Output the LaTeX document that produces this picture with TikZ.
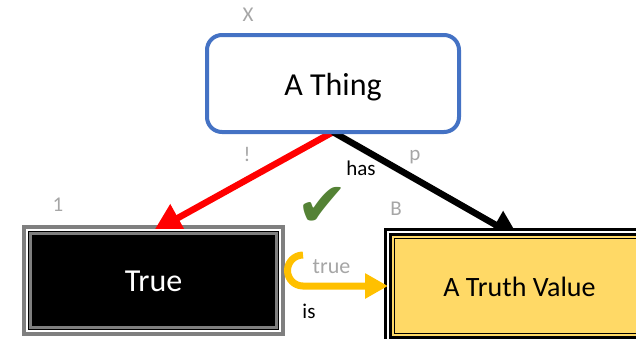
\documentclass[tikz,border=0pt]{standalone}
\usepackage{fontspec}
\setmainfont{Carlito}
\newfontfamily\symfont{DejaVu Sans}
\usetikzlibrary{arrows.meta,calc}
\definecolor{thingblue}{HTML}{4472C4}
\definecolor{linkred}{HTML}{FF0000}
\definecolor{isyellow}{HTML}{FFC000}
\definecolor{valuefill}{HTML}{FFD966}
\definecolor{labelgray}{HTML}{A6A6A6}
\definecolor{framegray}{HTML}{7F7F7F}
\definecolor{checkgreen}{HTML}{548235}
\pgfdeclarelayer{frames}
\pgfdeclarelayer{links}
\pgfsetlayers{frames,links,main}

\begin{document}
\begin{tikzpicture}[x=1pt,y=-1pt,
  every node/.style={inner sep=0pt,outer sep=0pt},
  bigtext/.style={font=\fontsize{32}{38}\selectfont},
  thingbox/.style={bigtext, draw=thingblue, line width=4pt, rounded corners=15pt,
    fill=white, minimum width=252pt, minimum height=97pt, text height=24pt, text depth=0pt},
  truebox/.style={bigtext, text=white, fill=black, draw=framegray, line width=3pt,
    minimum width=246pt, minimum height=94pt, text height=22.4pt, text depth=0pt},
  valuebox/.style={font=\fontsize{28}{34}\selectfont, fill=valuefill, draw=black,
    line width=1pt, minimum width=250pt, minimum height=95pt, text height=21.4pt, text depth=0pt},
  tag/.style={font=\fontsize{21}{25}\selectfont, text=labelgray, anchor=base},
  verb/.style={font=\fontsize{21}{25}\selectfont, anchor=base},
  link/.style={line width=6.5pt, -{Triangle[length=28pt,width=30pt]}},
  islink/.style={isyellow, line width=7pt, -{Triangle[length=23pt,width=24pt]}},
]
\useasboundingbox (0,0) rectangle (636,338);

% the three concepts
\node[thingbox] (thing) at (333,83.5) {A Thing};
\node[truebox] (truebox) at (153.5,280.5) {True};
\node[valuebox] (tv) at (519.5,286) {A Truth Value};

% outer frames
\begin{pgfonlayer}{frames}
  \fill[framegray] ([shift={(-8.5,-8.5)}]truebox.north west) rectangle ([shift={(8.5,8.5)}]truebox.south east);
  \fill[black] ([shift={(-10.5,-10.5)}]tv.north west) rectangle ([shift={(10.5,10.5)}]tv.south east);
\end{pgfonlayer}

% relations, then the inner frame rings on top of the arrow tips
\begin{pgfonlayer}{links}
  \draw[link, linkred] (thing.south) -- ([yshift=2pt]truebox.north);
  \draw[link, black] (thing.south) -- (tv.north);
  \coordinate (loopstart) at ([shift={(26.5,-25.5)}]truebox.east);
  \draw[islink] (loopstart) arc[start angle=270, end angle=90, radius=15.5] -- ([xshift=-6.5pt]tv.west);

  \fill[white] ([shift={(-4.5,-4.5)}]truebox.north west) rectangle ([shift={(4.5,4.5)}]truebox.south east);
  \fill[black] ([shift={(-2.5,-2.5)}]truebox.north west) rectangle ([shift={(2.5,2.5)}]truebox.south east);

  \fill[white] ([shift={(-7.5,-7.5)}]tv.north west) rectangle ([shift={(7.5,7.5)}]tv.south east);
  \fill[black] ([shift={(-5.5,-5.5)}]tv.north west) rectangle ([shift={(5.5,5.5)}]tv.south east);
  \fill[valuefill] ([shift={(-2.5,-2.5)}]tv.north west) rectangle ([shift={(2.5,2.5)}]tv.south east);
\end{pgfonlayer}

% labels
\node[tag] (lblx) at (248,21) {X};
\node[tag] (lblone) at (58,211.7) {1};
\node[tag] (lblb) at (396,215) {B};
\node[tag] (lblbang) at (247,161) {!};
\node[tag] (lblp) at (415,160) {p};
\node[verb] (lblhas) at (361,175) {has};
\node[tag, font=\fontsize{22}{26}\selectfont] (lbltrue) at (331.5,273.3) {true};
\node[verb] (lblis) at (309,318) {is};
\node[text=checkgreen, font=\symfont\fontsize{62}{70}\selectfont] (check) at (322,207) {✔};
\end{tikzpicture}
\end{document}
